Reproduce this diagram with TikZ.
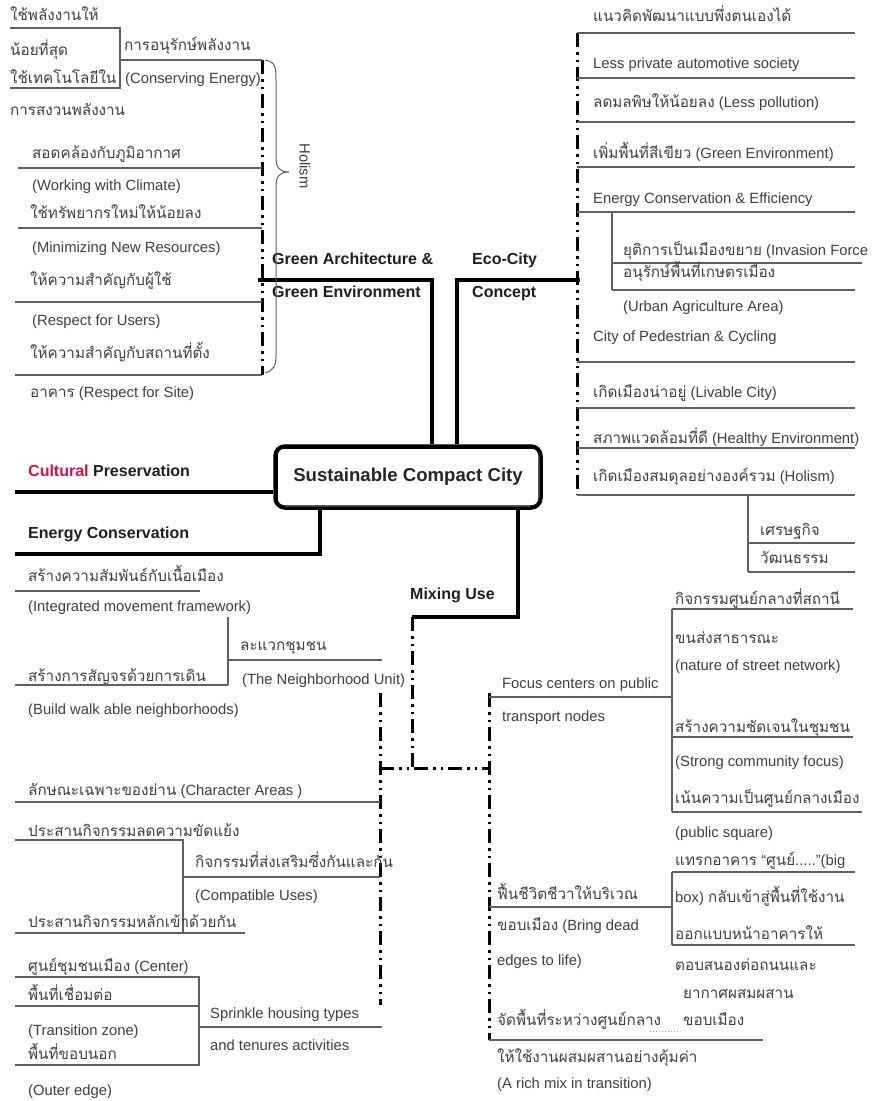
\documentclass[tikz,border=0pt]{standalone}
\usepackage{fontspec}
\setmainfont{Liberation Sans}
\newfontfamily\thaifont[Script=Thai,Scale=1.03]{Loma}
\newcommand\thaitxt[1]{{\thaifont #1}}
\definecolor{txtgray}{HTML}{404040}
\definecolor{linegray}{HTML}{606060}
\definecolor{culturalred}{HTML}{D2144A}
\tikzset{
  brline/.style={draw=linegray, line width=1.2pt},
  thickline/.style={draw=black, line width=3.6pt},
  dashdotline/.style={draw=black, line width=3pt, dash pattern=on 14pt off 5pt on 2.5pt off 5pt on 2.5pt off 5pt},
  lbl/.style={anchor=west, inner sep=0pt, text height=10pt, text depth=3pt, font=\fontsize{14.8}{17}\selectfont, text=txtgray},
  blbl/.style={anchor=west, inner sep=0pt, text height=11pt, text depth=3pt, font=\fontsize{16}{18}\selectfont\bfseries, text=black!88},
}
\begin{document}
\begin{tikzpicture}[x=1pt,y=-1pt]
\useasboundingbox (0,0) rectangle (876,1101);
\fill[white] (0,0) rectangle (876,1101);

% ---------- central node ----------
\node[draw=black, line width=3.5pt, rounded corners=10pt, minimum width=266pt, minimum height=62pt,
      inner sep=0pt, font=\fontsize{18.6}{21}\selectfont\bfseries, text=black!85] (scc) at (408,477) {Sustainable Compact City};
\draw[line width=1pt, rounded corners=7pt] ([xshift=4pt,yshift=-4pt]scc.north west) rectangle ([xshift=-4pt,yshift=4pt]scc.south east);

% ---------- main branches ----------
\coordinate (ga) at (432,280);
\coordinate (gastart) at (258,280);
\draw[thickline] (gastart) -- (ga) -- (ga |- scc.north);
\coordinate (ec) at (457,280);
\coordinate (ecstart) at (580,280);
\draw[thickline] (ecstart) -- (ec) -- (ec |- scc.north);
\coordinate (cp) at (15,492);
\draw[thickline] (cp) -- (cp -| scc.west);
\coordinate (en) at (320,554);
\coordinate (enend) at (15,554);
\draw[thickline] (en |- scc.south) -- (en) -- (enend);
\coordinate (mx) at (518,617);
\coordinate (mxl) at (412,617);
\draw[thickline] (mx |- scc.south) -- (mx) -- (mxl);

\node[blbl] (ga1) at (272,260) {Green Architecture \&};
\node[blbl] (ga2) at (272,293) {Green Environment};
\node[blbl] (ec1) at (472,260) {Eco-City};
\node[blbl] (ec2) at (472,293) {Concept};
\node[blbl] (cpt) at (28,472) {\textcolor{culturalred}{Cultural} Preservation};
\node[blbl] (ent) at (28,534) {Energy Conservation};
\node[blbl] (mxt) at (410,595) {Mixing Use};

% ---------- top-left: green architecture ----------
\draw[dashdotline] (262,60) -- (262,375);
\draw[brline] (10,28) -- (120,28) -- (120,88) -- (10,88);
\draw[brline] (120,60) -- (262,60);
\draw[brline] (18,168) -- (262,168);
\draw[brline] (18,228) -- (262,228);
\draw[brline] (15,302) -- (262,302);
\draw[brline] (15,375) -- (262,375);
\draw[draw=linegray, line width=1pt] (265,60) .. controls (276,62) and (276,68) .. (276,80)
   -- (276,158) .. controls (276,168) and (280,172) .. (289,172)
   .. controls (280,172) and (276,176) .. (276,186)
   -- (276,355) .. controls (276,366) and (274,370) .. (265,373);
\node[lbl, rotate=-90, anchor=center] (hol) at (303,166) {Holism};

\node[lbl] (a1) at (10,17) {\thaitxt{ใช้พลังงานให้}};
\node[lbl] (a2) at (10,52) {\thaitxt{น้อยที่สุด}};
\node[lbl] (a3) at (10,80) {\thaitxt{ใช้เทคโนโลยีใน}};
\node[lbl] (a4) at (124,47) {\thaitxt{การอนุรักษ์พลังงาน}};
\node[lbl] (a5) at (125,80) {(Conserving Energy)};
\node[lbl] (a6) at (10,112) {\thaitxt{การสงวนพลังงาน}};
\node[lbl] (a7) at (32,155) {\thaitxt{สอดคล้องกับภูมิอากาศ}};
\node[lbl] (a8) at (32,187) {(Working with Climate)};
\node[lbl] (a9) at (30,215) {\thaitxt{ใช้ทรัพยากรใหม่ให้น้อยลง}};
\node[lbl] (a10) at (32,249) {(Minimizing New Resources)};
\node[lbl] (a11) at (30,282) {\thaitxt{ให้ความสำคัญกับผู้ใช้}};
\node[lbl] (a12) at (32,322) {(Respect for Users)};
\node[lbl] (a13) at (30,355) {\thaitxt{ให้ความสำคัญกับสถานที่ตั้ง}};
\node[lbl] (a14) at (30,394) {\thaitxt{อาคาร} (Respect for Site)};

% ---------- top-right: eco-city ----------
\draw[dashdotline] (577,33) -- (577,495);
\foreach \yy in {33,78,122,167,212,362,408,448,495} \draw[brline] (577,\yy) -- (855,\yy);
\draw[brline] (612,212) -- (612,290);
\draw[brline] (612,263) -- (862,263);
\draw[brline] (612,290) -- (855,290);
\draw[brline] (748,495) -- (748,572);
\draw[brline] (748,543) -- (855,543);
\draw[brline] (748,572) -- (855,572);

\node[lbl] (b1) at (593,18) {\thaitxt{แนวคิดพัฒนาแบบพึ่งตนเองได้}};
\node[lbl] (b2) at (593,65) {Less private automotive society};
\node[lbl] (b3) at (593,104) {\thaitxt{ลดมลพิษให้น้อยลง} (Less pollution)};
\node[lbl] (b4) at (593,155) {\thaitxt{เพิ่มพื้นที่สีเขียว} (Green Environment)};
\node[lbl] (b5) at (593,200) {Energy Conservation \& Efficiency};
\node[lbl] (b6) at (623,252) {\thaitxt{ยุติการเป็นเมืองขยาย} (Invasion Force};
\node[lbl] (b7) at (623,274) {\thaitxt{อนุรักษ์พื้นที่เกษตรเมือง}};
\node[lbl] (b8) at (623,308) {(Urban Agriculture Area)};
\node[lbl] (b9) at (593,338) {City of Pedestrian \& Cycling};
\node[lbl] (b10) at (593,394) {\thaitxt{เกิดเมืองน่าอยู่} (Livable City)};
\node[lbl] (b11) at (593,440) {\thaitxt{สภาพแวดล้อมที่ดี} (Healthy Environment)};
\node[lbl] (b12) at (593,478) {\thaitxt{เกิดเมืองสมดุลอย่างองค์รวม} (Holism)};
\node[lbl] (b13) at (760,532) {\thaitxt{เศรษฐกิจ}};
\node[lbl] (b14) at (760,560) {\thaitxt{วัฒนธรรม}};

% ---------- middle-left ----------
\draw[brline] (15,591) -- (200,591);
\draw[brline] (228,617) -- (228,685);
\draw[brline] (228,660) -- (382,660);
\draw[brline] (15,685) -- (228,685);
\node[lbl] (c1) at (28,578) {\thaitxt{สร้างความสัมพันธ์กับเนื้อเมือง}};
\node[lbl] (c2) at (28,608) {(Integrated movement framework)};
\node[lbl] (c3) at (240,647) {\thaitxt{ละแวกชุมชน}};
\node[lbl] (c4) at (28,678) {\thaitxt{สร้างการสัญจรด้วยการเดิน}};
\node[lbl] (c5) at (242,681) {(The Neighborhood Unit)};
\node[lbl] (c6) at (28,711) {(Build walk able neighborhoods)};

% ---------- mixing use structure ----------
\draw[dashdotline] (mxl) -- (412,768);
\draw[dashdotline] (380,768) -- (489,768);
\draw[dashdotline] (380,693) -- (380,1005);
\draw[dashdotline] (489,693) -- (489,1040);

% lower-left
\draw[brline] (15,802) -- (380,802);
\draw[brline] (15,840) -- (183,840) -- (183,933);
\draw[brline] (183,877) -- (380,877);
\draw[brline] (15,933) -- (245,933);
\draw[brline] (15,977) -- (199,977) -- (199,1065) -- (15,1065);
\draw[brline] (15,1006) -- (199,1006);
\draw[brline] (199,1027) -- (382,1027);
\node[lbl] (d1) at (28,792) {\thaitxt{ลักษณะเฉพาะของย่าน} (Character Areas )};
\node[lbl] (d2) at (28,833) {\thaitxt{ประสานกิจกรรมลดความขัดแย้ง}};
\node[lbl] (d3) at (195,864) {\thaitxt{กิจกรรมที่ส่งเสริมซึ่งกันและกัน}};
\node[lbl] (d4) at (195,897) {(Compatible Uses)};
\node[lbl] (d5) at (28,924) {\thaitxt{ประสานกิจกรรมหลักเข้าด้วยกัน}};
\node[lbl] (d6) at (28,968) {\thaitxt{ศูนย์ชุมชนเมือง} (Center)};
\node[lbl] (d7) at (28,997) {\thaitxt{พื้นที่เชื่อมต่อ}};
\node[lbl] (d8) at (28,1032) {(Transition zone)};
\node[lbl] (d9) at (28,1056) {\thaitxt{พื้นที่ขอบนอก}};
\node[lbl] (d10) at (28,1092) {(Outer edge)};
\node[lbl] (d11) at (210,1015) {Sprinkle housing types};
\node[lbl] (d12) at (210,1047) {and tenures activities};

% lower-right
\draw[brline] (489,697) -- (672,697);
\draw[brline] (672,609) -- (672,812);
\draw[brline] (672,609) -- (853,609);
\draw[brline] (672,737) -- (853,737);
\draw[brline] (672,812) -- (862,812);
\draw[brline] (489,907) -- (672,907);
\draw[brline] (672,872) -- (672,945);
\draw[brline] (672,872) -- (855,872);
\draw[brline] (672,945) -- (855,945);
\draw[brline] (489,1040) -- (763,1040);
\draw[draw=linegray!60, line width=1pt, dotted] (650,1031) -- (680,1031);
\node[lbl] (e1) at (502,685) {Focus centers on public};
\node[lbl] (e2) at (502,718) {transport nodes};
\node[lbl] (e3) at (675,601) {\thaitxt{กิจกรรมศูนย์กลางที่สถานี}};
\node[lbl] (e4) at (675,640) {\thaitxt{ขนส่งสาธารณะ}};
\node[lbl] (e5) at (675,667) {(nature of street network)};
\node[lbl] (e6) at (675,729) {\thaitxt{สร้างความชัดเจนในชุมชน}};
\node[lbl] (e7) at (675,763) {(Strong community focus)};
\node[lbl] (e8) at (675,800) {\thaitxt{เน้นความเป็นศูนย์กลางเมือง}};
\node[lbl] (e9) at (675,834) {(public square)};
\node[lbl] (e10) at (675,862) {\thaitxt{แทรกอาคาร} “\thaitxt{ศูนย์}.....”(big};
\node[lbl] (e11) at (675,899) {box) \thaitxt{กลับเข้าสู่พื้นที่ใช้งาน}};
\node[lbl] (e12) at (675,936) {\thaitxt{ออกแบบหน้าอาคารให้}};
\node[lbl] (e13) at (675,967) {\thaitxt{ตอบสนองต่อถนนและ}};
\node[lbl] (e14) at (683,995) {\thaitxt{ยากาศผสมผสาน}};
\node[lbl] (e15) at (683,1022) {\thaitxt{ขอบเมือง}};
\node[lbl] (f1) at (497,896) {\thaitxt{ฟื้นชีวิตชีวาให้บริเวณ}};
\node[lbl] (f2) at (497,927) {\thaitxt{ขอบเมือง} (Bring dead};
\node[lbl] (f3) at (497,962) {edges to life)};
\node[lbl] (f4) at (497,1022) {\thaitxt{จัดพื้นที่ระหว่างศูนย์กลาง}};
\node[lbl] (f5) at (497,1059) {\thaitxt{ให้ใช้งานผสมผสานอย่างคุ้มค่า}};
\node[lbl] (f6) at (497,1085) {(A rich mix in transition)};
\end{tikzpicture}
\end{document}
